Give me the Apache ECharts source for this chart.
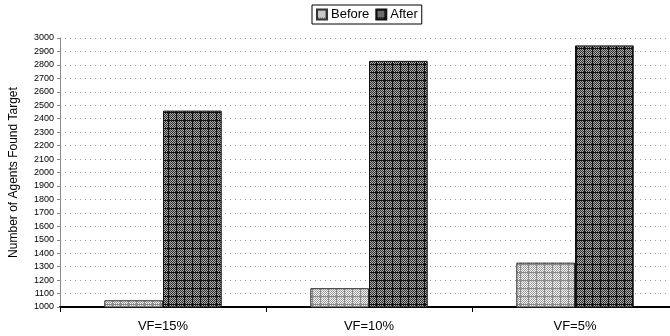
<!DOCTYPE html>
<html>
<head>
<meta charset="utf-8">
<script src="https://cdn.jsdelivr.net/npm/echarts@6/dist/echarts.min.js"></script>
<style>
html,body{margin:0;padding:0;background:#fff;overflow:hidden;width:670px;height:336px;}
/* the plot area runs a little past the right edge of the page */
#chart{width:678px;height:336px;}
</style>
</head>
<body>
<div id="chart"></div>
<script>
// Scenario labels and agent counts per scenario
const categories = ['VF=15%', 'VF=10%', 'VF=5%'];
const seriesNames = ['Before', 'After'];
const beforeValues = [1050, 1140, 1330];
const afterValues = [2460, 2830, 2945];
const yMin = 1000, yMax = 3000, yStep = 100;

// Hatched fills drawn on small tiles, repeated over each bar
function makeTile(base, dotA, dotB, line) {
  const c = document.createElement('canvas');
  c.width = 8; c.height = 8;
  const g = c.getContext('2d');
  g.fillStyle = base; g.fillRect(0, 0, 8, 8);
  for (let y = 0; y < 8; y++) {
    for (let x = 0; x < 8; x++) {
      g.fillStyle = ((x + y) % 2 === 0) ? dotA : dotB;
      g.fillRect(x, y, 1, 1);
    }
  }
  g.fillStyle = line;
  g.fillRect(0, 0, 8, 1);
  g.fillRect(0, 0, 1, 8);
  return c;
}
const beforeFill = { image: makeTile('#d8d8d8', '#9a9a9a', '#f4f4f4', '#8a8a8a'), repeat: 'repeat' };
const afterFill = { image: makeTile('#707070', '#2a2a2a', '#b0b0b0', '#111111'), repeat: 'repeat' };

const chart = echarts.init(document.getElementById('chart'), null, { renderer: 'canvas' });
chart.setOption({
  animation: false,
  backgroundColor: '#ffffff',
  textStyle: { fontFamily: 'Liberation Sans, Arial, sans-serif' },
  legend: {
    data: seriesNames,
    icon: 'rect',
    top: 5,
    left: 312,
    itemWidth: 10,
    itemHeight: 10,
    itemGap: 6,
    padding: [3, 4, 3, 4],
    borderColor: '#000',
    borderWidth: 1,
    textStyle: { fontSize: 13, color: '#000', fontFamily: 'Liberation Sans, Arial, sans-serif', padding: [0, 0, 0, -1] }
  },
  grid: { left: 57, right: 0, top: 38, bottom: 29, containLabel: false },
  xAxis: {
    type: 'category',
    data: categories,
    axisLine: { lineStyle: { color: '#000', width: 2 } },
    axisTick: { show: true, length: 5, lineStyle: { color: '#000' } },
    axisLabel: { color: '#000', fontSize: 13, margin: 13, fontFamily: 'Liberation Sans, Arial, sans-serif' }
  },
  yAxis: {
    type: 'value',
    min: yMin,
    max: yMax,
    interval: yStep,
    name: 'Number of Agents Found Target',
    nameLocation: 'middle',
    nameRotate: 90,
    nameGap: 40,
    nameTextStyle: { color: '#000', fontSize: 12, fontFamily: 'Liberation Sans, Arial, sans-serif' },
    axisLine: { show: true, lineStyle: { color: '#888', width: 1 } },
    axisTick: { show: true, length: 3, lineStyle: { color: '#888' } },
    axisLabel: {
      color: '#000', fontSize: 9, margin: 6,
      fontFamily: 'Liberation Sans Narrow, Arial, sans-serif',
      formatter: v => String(v)
    },
    splitLine: { show: true, lineStyle: { color: '#999', type: [1, 4], width: 1 } }
  },
  series: [
    {
      name: seriesNames[0],
      type: 'bar',
      data: beforeValues,
      barGap: '0%',
      barCategoryGap: '43%',
      itemStyle: { color: beforeFill, borderColor: '#333', borderWidth: 1 }
    },
    {
      name: seriesNames[1],
      type: 'bar',
      data: afterValues,
      barGap: '0%',
      barCategoryGap: '43%',
      itemStyle: { color: afterFill, borderColor: '#111', borderWidth: 1 }
    }
  ]
});
</script>
</body>
</html>
